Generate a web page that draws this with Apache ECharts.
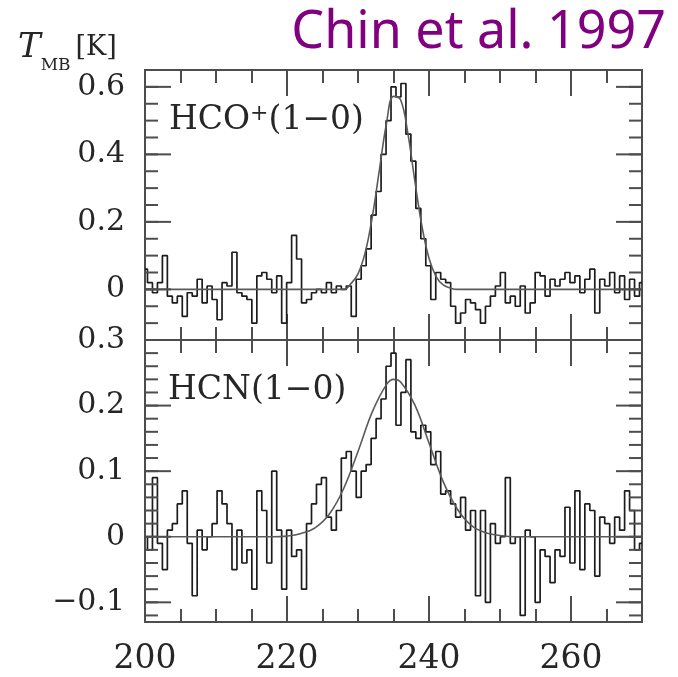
<!DOCTYPE html>
<html><head><meta charset="utf-8">
<script src="https://cdn.jsdelivr.net/npm/echarts@6/dist/echarts.min.js"></script>
<style>html,body{margin:0;padding:0;background:#fff}#c{width:678px;height:677px}</style>
</head><body><div id="c"></div>
<script>
// ---- data ----
const xTickLabels = [200, 220, 240, 260];
const topYLabels = [0, 0.2, 0.4, 0.6];
const botYLabels = [-0.1, 0, 0.1, 0.2, 0.3];
const chanStart = 200, chanWidth = 0.7;   // channel grid of the spectra (km/s)
const hcoSpectrum = [
 0.06,0.02,-0.01,0.02,0.10,-0.02,-0.04,-0.02,-0.08,-0.01,
 -0.02,0.03,-0.04,0.01,-0.03,-0.09,0.02,0.01,0.11,-0.01,
 -0.02,-0.03,-0.10,0.04,0.05,0.03,-0.01,0.04,-0.10,0.02,
 0.16,0.09,-0.04,-0.03,-0.01,0.00,-0.01,0.02,-0.01,0.01,
 0.00,0.01,-0.08,0.03,0.07,0.12,0.22,0.29,0.40,0.50,
 0.60,0.57,0.61,0.46,0.38,0.24,0.15,0.07,-0.03,0.05,
 0.03,0.02,-0.05,-0.10,-0.07,-0.03,-0.04,-0.06,-0.10,-0.05,
 -0.02,0.01,0.05,-0.04,-0.02,-0.05,0.01,-0.07,-0.04,0.05,
 0.04,-0.02,0.03,0.01,0.03,0.05,0.02,0.04,-0.01,0.03,
 0.06,-0.07,0.03,0.01,0.05,-0.01,0.04,-0.03,0.03,-0.02,
 0.02];
const hcnSpectrum = [
 0.00,-0.02,0.09,-0.01,-0.05,0.01,0.02,0.05,0.07,-0.01,
 -0.09,0.01,-0.02,0.00,0.02,0.07,0.05,0.02,-0.05,0.01,
 -0.04,-0.02,-0.08,0.07,0.04,-0.04,0.10,0.01,-0.08,0.01,
 -0.03,-0.02,-0.08,0.02,0.05,0.08,0.09,0.03,0.01,0.04,
 0.12,0.13,0.10,0.06,0.10,0.11,0.15,0.18,0.21,0.26,
 0.28,0.17,0.22,0.27,0.16,0.15,0.17,0.16,0.11,0.13,
 0.065,0.07,0.05,0.03,0.06,0.01,0.04,-0.09,0.04,-0.10,
 0.02,-0.01,0.00,0.09,-0.01,0.00,-0.12,0.01,0.00,-0.10,
 -0.02,-0.03,-0.07,-0.02,-0.03,0.045,-0.04,0.07,-0.05,0.05,
 0.04,-0.06,0.03,0.02,-0.01,0.03,0.01,0.07,0.04,-0.02,
 -0.01];
const hcoFitX = [200, 228, 229, 230, 231, 232, 233, 234, 235, 236, 237, 238, 239, 240, 241, 242, 243, 244, 270];
const hcoFitY = [0, 0, 0.017, 0.046, 0.108, 0.213, 0.352, 0.49, 0.572, 0.562, 0.465, 0.322, 0.188, 0.092, 0.038, 0.013, 0.004, 0, 0];
const hcnFitX = [200, 218, 220, 222, 224, 226, 228, 230, 232, 234, 235, 236, 238, 240, 242, 244, 246, 248, 250, 252, 270];
const hcnFitY = [0, 0, 0.001, 0.005, 0.014, 0.035, 0.074, 0.130, 0.190, 0.232, 0.240, 0.236, 0.201, 0.143, 0.084, 0.042, 0.017, 0.006, 0.002, 0, 0];

// ---- layout / style ----
const AX = '#4d4d4d', TXT = '#262626';
const SERIF = '"DejaVu Serif", serif';
const PANELS = [
  { top: 70, height: 270, ymin: -0.15, ymax: 0.65 },
  { top: 340, height: 282, ymin: -0.13, ymax: 0.3 }
];
const XMIN = 200, XMAX = 270;
function steps(a, b, s) { const r = []; for (let v = a; v <= b + 1e-9; v += s) r.push(Math.round(v * 1000) / 1000); return r; }
const yMinor = [steps(-0.1, 0.6, 0.05), steps(-0.12, 0.28, 0.02)];
const yMajor = [topYLabels, botYLabels];
const fmt = v => (v < 0 ? '\u2212' : '') + String(Math.abs(v));
const spectrum = arr => arr.map((v, i) => [Math.round((chanStart + i * chanWidth) * 100) / 100, v]);
const pairs = (xs, ys) => xs.map((x, i) => [x, ys[i]]);

// x axes: one carrying labels + four tick-only axes (major/minor, bottom/top) per panel
function xAxesFor(gi, showLabels) {
  const base = { type: 'value', gridIndex: gi, min: XMIN, max: XMAX, splitLine: { show: false },
    axisLine: { show: false, onZero: false } };
  const tick = (pos, interval, len) => Object.assign({}, base, { position: pos, interval,
    axisTick: { show: true, inside: true, length: len, lineStyle: { color: AX, width: 2 } },
    axisLabel: { show: false } });
  return [
    Object.assign({}, base, { position: 'bottom', axisTick: { show: false },
      axisLabel: { show: showLabels, customValues: xTickLabels, margin: 21, fontFamily: SERIF, fontSize: 33, color: TXT } }),
    tick('bottom', 20, 26), tick('bottom', 5, 13), tick('top', 20, 26), tick('top', 5, 13)
  ];
}
function yAxis(gi) {
  return { type: 'value', gridIndex: gi, min: PANELS[gi].ymin, max: PANELS[gi].ymax, position: 'left', splitLine: { show: false },
    axisLine: { show: false, onZero: false }, axisTick: { show: false },
    axisLabel: { show: true, customValues: yMajor[gi], margin: 20, formatter: fmt, fontFamily: SERIF, fontSize: 30, color: TXT } };
}

const texts = [
  { type: 'text', x: 666, y: 33, style: { text: 'Chin et al. 1997', font: '52px "Noto Sans"', fill: '#800080',
      align: 'right', textAlign: 'right', verticalAlign: 'middle', textVerticalAlign: 'middle' } },
  { type: 'text', x: 18, y: 48, style: {
      text: '{t|T}{m|MB}{k|[K]}', verticalAlign: 'middle', textVerticalAlign: 'middle', fill: TXT,
      rich: {
        t: { font: 'italic 34px ' + SERIF, fill: TXT },
        m: { font: '17px ' + SERIF, fill: TXT, verticalAlign: 'bottom', padding: [0, 5, -9, 0] },
        k: { font: '27px ' + SERIF, fill: TXT }
      } } },
  { type: 'text', x: 169, y: 120, style: {
      text: '{a|HCO}{s|+}{a|(1\u22120)}', verticalAlign: 'middle', textVerticalAlign: 'middle', fill: TXT,
      rich: {
        a: { font: '33px ' + SERIF, fill: TXT },
        s: { font: '22px ' + SERIF, fill: TXT, verticalAlign: 'top' }
      } } },
  { type: 'text', x: 168, y: 390, style: {
      text: 'HCN(1\u22120)', font: '33px ' + SERIF, fill: TXT, verticalAlign: 'middle', textVerticalAlign: 'middle' } }
];

const chart = echarts.init(document.getElementById('c'), null, { renderer: 'canvas' });
chart.setOption({
  animation: false,
  backgroundColor: '#fff',
  grid: PANELS.map(P => ({ left: 145, right: 36, top: P.top, height: P.height, show: true,
    borderColor: AX, borderWidth: 2, backgroundColor: 'transparent' })),
  xAxis: xAxesFor(0, false).concat(xAxesFor(1, true)),
  yAxis: [yAxis(0), yAxis(1)],
  series: [
    { type: 'line', xAxisIndex: 0, yAxisIndex: 0, data: spectrum(hcoSpectrum), step: 'middle', symbol: 'none',
      lineStyle: { color: '#1c1c1c', width: 1.7 }, z: 3 },
    { type: 'line', xAxisIndex: 0, yAxisIndex: 0, data: pairs(hcoFitX, hcoFitY), smooth: 0.4, symbol: 'none',
      lineStyle: { color: '#5a5a5a', width: 1.6 }, z: 4 },
    { type: 'line', xAxisIndex: 5, yAxisIndex: 1, data: spectrum(hcnSpectrum), step: 'middle', symbol: 'none',
      lineStyle: { color: '#1c1c1c', width: 1.7 }, z: 3 },
    { type: 'line', xAxisIndex: 5, yAxisIndex: 1, data: pairs(hcnFitX, hcnFitY), smooth: 0.4, symbol: 'none',
      lineStyle: { color: '#5a5a5a', width: 1.6 }, z: 4 }
  ],
  graphic: texts
});

// y ticks (left and right, inward), placed through each grid's own scale
const yTicks = [];
[0, 1].forEach(gi => {
  [[yMajor[gi], 26], [yMinor[gi], 13]].forEach(([vals, len]) => {
    vals.forEach(v => {
      const pL = chart.convertToPixel({ gridIndex: gi }, [XMIN, v]);
      const pR = chart.convertToPixel({ gridIndex: gi }, [XMAX, v]);
      yTicks.push({ type: 'line', silent: true, z: 50, shape: { x1: pL[0], y1: pL[1], x2: pL[0] + len, y2: pL[1] }, style: { stroke: AX, lineWidth: 2 } });
      yTicks.push({ type: 'line', silent: true, z: 50, shape: { x1: pR[0], y1: pR[1], x2: pR[0] - len, y2: pR[1] }, style: { stroke: AX, lineWidth: 2 } });
    });
  });
});
chart.setOption({ graphic: texts.concat(yTicks) });
</script>
</body></html>
